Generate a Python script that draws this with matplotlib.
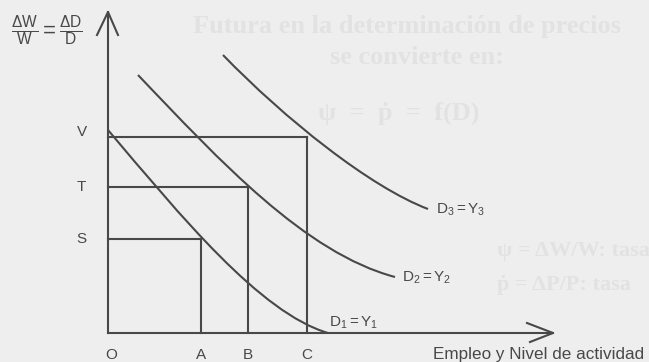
import matplotlib.pyplot as plt
from matplotlib.path import Path
from matplotlib.patches import PathPatch

plt.rcParams['font.family'] = ['Liberation Sans', 'DejaVu Sans']
plt.rcParams['mathtext.fontset'] = 'custom'
plt.rcParams['mathtext.rm'] = 'Liberation Sans'
plt.rcParams['mathtext.it'] = 'Liberation Sans'

bg = '#eeeeee'
ink = '#484848'
ghost = '#e2e2e2'

# empleo (A, B, C) y tasas (S, T, V)
x_names = ['A', 'B', 'C']
x_levels = [9.3, 14.0, 19.9]
y_names = ['S', 'T', 'V']
y_levels = [9.4, 14.6, 19.6]

# curvas D = Y (puntos de control de una Bezier cubica)
d1 = [(0.0, 20.3), (7.2, 11.8), (15.2, 2.0), (22.0, 0.0)]
d2 = [(3.0, 25.8), (11.2, 17.2), (19.7, 8.0), (28.7, 5.6)]
d3 = [(11.5, 27.8), (17.7, 21.4), (26.2, 14.6), (32.0, 12.4)]
curve_labels = [r'D$_1$$=$Y$_1$', r'D$_2$$=$Y$_2$', r'D$_3$$=$Y$_3$']
label_pos = [(22.1, 1.0), (29.4, 5.5), (32.8, 12.3)]

fig = plt.figure(figsize=(6.49, 3.62), dpi=100, facecolor=bg)
ax = fig.add_axes([0, 0, 1, 1])
ax.set_facecolor(bg)
ax.set_xlim(-10.8, 54.1)
ax.set_ylim(-2.9, 33.3)
ax.axis('off')

# texto de la pagina siguiente que se transparenta
serif = dict(family='Liberation Serif', color=ghost, fontweight='bold', fontsize=19,
             zorder=0, va='center', ha='left')
ax.text(8.5, 30.6, 'Futura en la determinación de precios', **serif)
ax.text(22.2, 27.5, 'se convierte en:', **serif)
ax.text(21.0, 22.0, 'ψ  =  ṗ  =  f(D)', **serif)
serif['fontsize'] = 16
ax.text(38.9, 8.2, 'ψ = ΔW/W: tasa', **serif)
ax.text(38.9, 4.8, 'ṗ = ΔP/P: tasa', **serif)

lw = 1.5
# ejes con flechas abiertas
ax.plot([0, 0], [0, 32.1], color=ink, lw=lw)
ax.plot([-1.1, 0, 1.0], [29.8, 32.1, 29.8], color=ink, lw=lw)
ax.plot([0, 44.5], [0, 0], color=ink, lw=lw)
ax.plot([41.9, 44.5, 42.2], [1.0, 0, -0.9], color=ink, lw=lw)

# rectangulos de referencia
for xv, yv in zip(x_levels, y_levels):
    ax.plot([0, xv], [yv, yv], color=ink, lw=lw)
    ax.plot([xv, xv], [0, yv], color=ink, lw=lw)

codes = [Path.MOVETO, Path.CURVE4, Path.CURVE4, Path.CURVE4]
for pts in (d1, d2, d3):
    ax.add_patch(PathPatch(Path(pts, codes), fill=False, edgecolor=ink, lw=lw))

for txt, (lx, ly) in zip(curve_labels, label_pos):
    ax.text(lx, ly, txt, fontsize=11, color=ink, ha='left', va='center')

# rotulos de los ejes
ax.text(0.3, -2.2, 'O', fontsize=11, color=ink, ha='center', va='center')
for name, xv in zip(x_names, x_levels):
    ax.text(xv, -2.2, name, fontsize=11, color=ink, ha='center', va='center')
ax.text(-2.6, 20.1, 'V', fontsize=11, color=ink, ha='center', va='center')
ax.text(-2.7, 14.6, 'T', fontsize=11, color=ink, ha='center', va='center')
ax.text(-2.7, 9.4, 'S', fontsize=11, color=ink, ha='center', va='center')
ax.text(32.5, -2.2, 'Empleo y Nivel de actividad', fontsize=12.3, color=ink,
        ha='left', va='center')
ax.text(-6.1, 30.2, r'$\frac{\Delta \mathrm{W}}{\mathrm{W}} = \frac{\Delta \mathrm{D}}{\mathrm{D}}$',
        fontsize=16, color=ink, ha='center', va='center')

fig.savefig('out.png', dpi=100, facecolor=bg)
